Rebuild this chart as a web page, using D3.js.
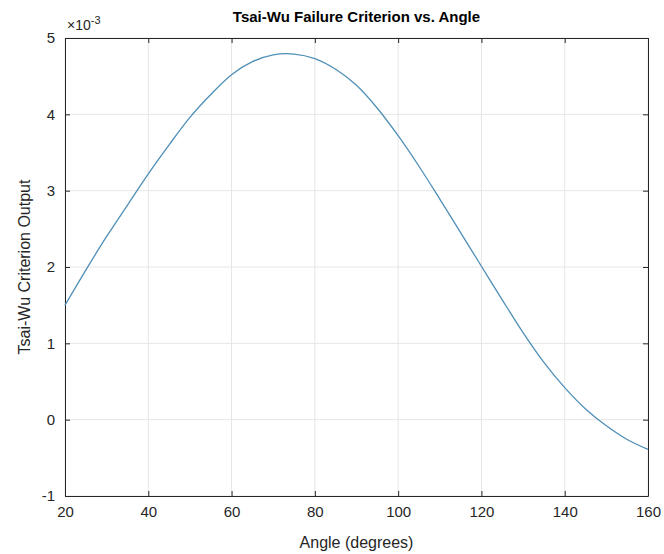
<!DOCTYPE html>
<html>
<head>
<meta charset="utf-8">
<script src="https://cdn.jsdelivr.net/npm/d3@7"></script>
<style>
  body { margin: 0; background: #fff; }
  svg { display: block; font-family: Arial, "Liberation Sans", sans-serif; }
</style>
</head>
<body>
<svg id="chart" width="664" height="554"></svg>
<script>
// Data (values in units of 1e-3)
const angles = [20,25,30,35,40,45,50,55,60,65,70,75,80,85,90,95,100,105,110,115,120,125,130,135,140,145,150,155,160];
const criterion = [1.50,1.96,2.40,2.81,3.22,3.60,3.96,4.26,4.52,4.69,4.78,4.79,4.73,4.59,4.38,4.08,3.72,3.32,2.89,2.45,2.01,1.57,1.14,0.75,0.42,0.14,-0.08,-0.26,-0.39];
const xTicks = [20,40,60,80,100,120,140,160];
const yTicks = [-1,0,1,2,3,4,5];
const titleText = "Tsai-Wu Failure Criterion vs. Angle";
const xLabel = "Angle (degrees)";
const yLabel = "Tsai-Wu Criterion Output";

const svg = d3.select("#chart");
const L = 65, R = 648, T = 38, B = 496;

const x = d3.scaleLinear().domain([20,160]).range([L,R]);
const y = d3.scaleLinear().domain([-1,5]).range([B,T]);

// grid
const grid = svg.append("g");
grid.selectAll("line.gx").data(xTicks).join("line")
  .attr("x1", d => x(d)).attr("x2", d => x(d))
  .attr("y1", T).attr("y2", B)
  .attr("stroke", "#e6e6e6").attr("stroke-width", 1);
grid.selectAll("line.gy").data(yTicks).join("line")
  .attr("y1", d => y(d)).attr("y2", d => y(d))
  .attr("x1", L).attr("x2", R)
  .attr("stroke", "#e6e6e6").attr("stroke-width", 1);

const fmt = d => String(d);
// axes
const xAxisB = d3.axisBottom(x).tickValues(xTicks).tickFormat(fmt).tickSizeInner(-5).tickSizeOuter(0).tickPadding(10);
const xAxisT = d3.axisTop(x).tickValues(xTicks).tickSizeInner(-5).tickSizeOuter(0).tickFormat("");
const yAxisL = d3.axisLeft(y).tickValues(yTicks).tickFormat(fmt).tickSizeInner(-5).tickSizeOuter(0).tickPadding(10);
const yAxisR = d3.axisRight(y).tickValues(yTicks).tickSizeInner(-5).tickSizeOuter(0).tickFormat("");

function style(g) {
  g.selectAll("path").attr("stroke", "#262626").attr("stroke-width", 1);
  g.selectAll("line").attr("stroke", "#262626");
  g.selectAll("text").attr("fill", "#262626").attr("font-size", 15)
    .attr("font-family", "Arial, 'Liberation Sans', sans-serif");
}
svg.append("g").attr("transform", `translate(0,${B})`).call(xAxisB).call(style);
svg.append("g").attr("transform", `translate(0,${T})`).call(xAxisT).call(style);
svg.append("g").attr("transform", `translate(${L},0)`).call(yAxisL).call(style);
svg.append("g").attr("transform", `translate(${R},0)`).call(yAxisR).call(style);

// curve
const line = d3.line().x((d,i) => x(angles[i])).y(d => y(d)).curve(d3.curveCatmullRom.alpha(0.5));
svg.append("path").datum(criterion)
  .attr("d", line).attr("fill", "none")
  .attr("stroke", "#4f8fb6").attr("stroke-width", 1.3);

// exponent
const ex = svg.append("text").attr("x", L + 2).attr("y", T - 8)
  .attr("font-size", 14).attr("fill", "#262626");
ex.append("tspan").text("\u00d710");
ex.append("tspan").attr("dy", -6).attr("font-size", 11).text("-3");

// title
svg.append("text").attr("x", (L+R)/2).attr("y", 22)
  .attr("text-anchor", "middle").attr("font-weight", "bold")
  .attr("font-size", 15).attr("fill", "#000").text(titleText);

// x label
svg.append("text").attr("x", (L+R)/2).attr("y", 548)
  .attr("text-anchor", "middle").attr("font-size", 16).attr("fill", "#262626").text(xLabel);

// y label
svg.append("text").attr("transform", `translate(30,${(T+B)/2}) rotate(-90)`)
  .attr("text-anchor", "middle").attr("font-size", 16).attr("fill", "#262626").text(yLabel);
</script>
</body>
</html>
